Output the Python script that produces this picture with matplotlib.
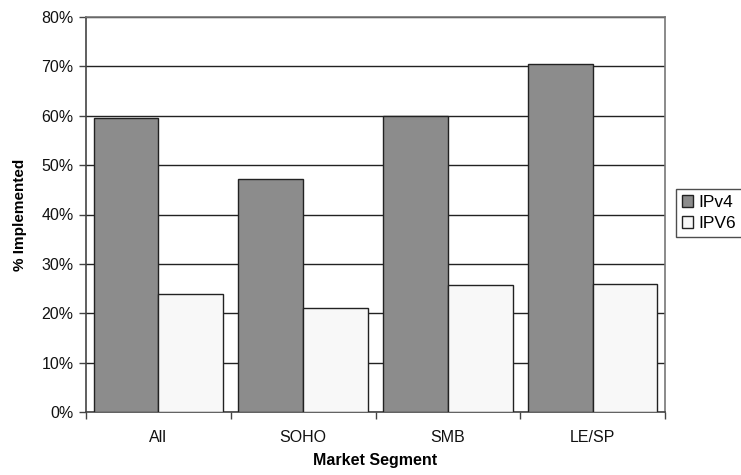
import matplotlib.pyplot as plt
import numpy as np
from matplotlib.ticker import MultipleLocator, FuncFormatter, FixedLocator

plt.rcParams['font.family'] = ['Liberation Sans', 'DejaVu Sans']

segments = ['All', 'SOHO', 'SMB', 'LE/SP']
ipv4 = [59.6, 47.2, 60.0, 70.4]
ipv6 = [23.9, 21.0, 25.8, 26.0]

fig = plt.figure(figsize=(7.41, 4.75), dpi=100)
ax = fig.add_axes([86 / 741, 1 - 412 / 475, (665 - 86) / 741, (412 - 17) / 475])

x = np.arange(len(segments))
w = 0.448
b4 = ax.bar(x - w / 2, ipv4, w, color='#8c8c8c', edgecolor='#222222', linewidth=1.0,
            label='IPv4', zorder=3)
b6 = ax.bar(x + w / 2, ipv6, w, color='#f8f8f8', edgecolor='#222222', linewidth=1.0,
            label='IPV6', zorder=3)

ax.set_xlim(-0.5, len(segments) - 0.5)
ax.set_ylim(0, 80)
ax.yaxis.set_major_locator(MultipleLocator(10))
ax.yaxis.set_major_formatter(FuncFormatter(lambda v, p: f'{v:.0f}%'))
ax.yaxis.grid(True, color='#222222', linewidth=1.0, zorder=0)

# category labels between boundary ticks
ax.set_xticks(x)
ax.set_xticklabels(segments)
ax.tick_params(axis='x', which='major', length=0, pad=13, labelsize=11.5, labelcolor='#111111')
ax.xaxis.set_minor_locator(FixedLocator(np.arange(-0.5, len(segments), 1.0)))
ax.tick_params(axis='x', which='minor', length=5, width=1, color='#444444', direction='out')
ax.tick_params(axis='y', length=5, width=1, color='#444444', labelsize=11.5,
               labelcolor='#111111', pad=4)

for side in ['left', 'bottom']:
    ax.spines[side].set_color('#444444')
    ax.spines[side].set_linewidth(1.2)
for side in ['top', 'right']:
    ax.spines[side].set_color('#777777')
    ax.spines[side].set_linewidth(1.2)

ax.set_ylabel('% Implemented', fontsize=11, fontweight='bold', labelpad=10)
ax.set_xlabel('Market Segment', fontsize=11.5, fontweight='bold', labelpad=6)

leg = fig.legend(handles=[b4, b6], loc='center left', bbox_to_anchor=(676 / 741, 1 - 213 / 475),
                 fontsize=12.5, frameon=True, fancybox=False, shadow=False,
                 handlelength=0.65, handleheight=0.65, handletextpad=0.3,
                 borderpad=0.35, labelspacing=0.35, borderaxespad=0)
leg.get_frame().set_edgecolor('#222222')
leg.get_frame().set_linewidth(1.0)

fig.savefig('out.png', dpi=100)
